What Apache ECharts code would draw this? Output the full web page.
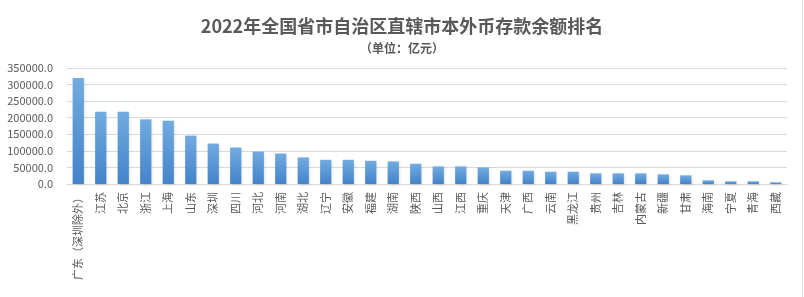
<!DOCTYPE html>
<html>
<head>
<meta charset="utf-8">
<script src="https://cdn.jsdelivr.net/npm/echarts@6/dist/echarts.min.js"></script>
<style>
  html, body { margin: 0; padding: 0; background: #fff; }
  #main { width: 804px; height: 297px; }
</style>
</head>
<body>
<div id="main"></div>
<script>
const regions = ["广东（深圳除外）", "江苏", "北京", "浙江", "上海", "山东", "深圳", "四川", "河北", "河南",
  "湖北", "辽宁", "安徽", "福建", "湖南", "陕西", "山西", "江西", "重庆", "天津",
  "广西", "云南", "黑龙江", "贵州", "吉林", "内蒙古", "新疆", "甘肃", "海南", "宁夏", "青海", "西藏"];
const deposits = [320000, 218000, 218000, 195000, 191000, 146000, 122000, 110000, 98000, 92000,
  80000, 73000, 73000, 70000, 68000, 61000, 53000, 53000, 50000, 40000,
  40000, 37000, 37000, 32000, 32000, 32000, 29000, 26000, 11000, 8000, 8000, 5000];
const yTicks = { min: 0, max: 350000, interval: 50000 };

const font = '"Noto Sans CJK SC", "Noto Sans", sans-serif';
let myChart = echarts.init(document.getElementById("main"));
myChart.setOption({
  animation: false,
  backgroundColor: "#fff",
  textStyle: { fontFamily: font },
  title: [
    {
      text: "2022年全国省市自治区直辖市本外币存款余额排名",
      left: "center",
      top: 12,
      textStyle: { fontSize: 18, fontWeight: "bold", color: "#595959", fontFamily: font }
    },
    {
      text: "（单位：亿元）",
      left: "center",
      top: 37,
      textStyle: { fontSize: 12, fontWeight: "bold", color: "#595959", fontFamily: font }
    }
  ],
  grid: { left: 67, right: 17, top: 68, bottom: 113, containLabel: false },
  xAxis: {
    type: "category",
    data: regions,
    axisLine: { lineStyle: { color: "#d9d9d9" } },
    axisTick: { show: false },
    axisLabel: {
      interval: 0,
      rotate: 90,
      margin: 8,
      fontSize: 11,
      color: "#595959",
      fontFamily: font
    }
  },
  yAxis: {
    type: "value",
    min: yTicks.min,
    max: yTicks.max,
    interval: yTicks.interval,
    axisLine: { show: false },
    axisTick: { show: false },
    splitLine: { lineStyle: { color: "#d9d9d9" } },
    axisLabel: {
      margin: 14,
      fontSize: 11,
      color: "#595959",
      fontFamily: font,
      formatter: v => v.toFixed(1)
    }
  },
  series: [
    {
      type: "bar",
      data: deposits,
      barWidth: "50%",
      itemStyle: {
        color: new echarts.graphic.LinearGradient(0, 0, 0, 1, [
          { offset: 0, color: "#72abe0" },
          { offset: 1, color: "#4383ca" }
        ]),
        shadowColor: "rgba(0,0,0,0.15)",
        shadowBlur: 3,
        shadowOffsetX: 1,
        shadowOffsetY: 1
      }
    }
  ],
  graphic: [
    {
      type: "line",
      shape: { x1: 802.5, y1: 0, x2: 802.5, y2: 297 },
      style: { stroke: "#e0e0e0", lineWidth: 1 }
    }
  ]
});
</script>
</body>
</html>
